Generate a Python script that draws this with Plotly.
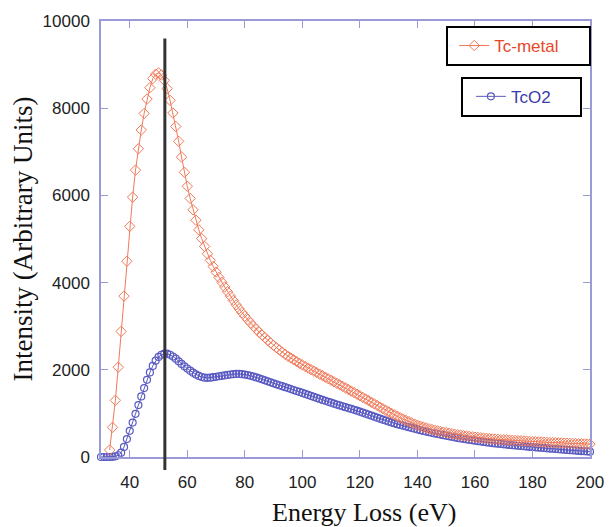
import plotly.graph_objects as go

# ---- data ----
metal_x = list(range(33, 201))
metal_y = [160, 680, 1300, 2060, 2880, 3690, 4490, 5290, 5960, 6580,
           7070, 7500, 7880, 8210, 8470, 8680, 8780, 8810, 8760, 8640,
           8450, 8180, 7890, 7580, 7240, 6880, 6530, 6210, 5930, 5670,
           5430, 5210, 5010, 4830, 4660, 4510, 4370, 4240, 4120, 4010,
           3900, 3790, 3690, 3590, 3490, 3400, 3310, 3230, 3150, 3075,
           3000, 2930, 2860, 2795, 2735, 2675, 2615, 2560, 2505, 2455,
           2405, 2355, 2310, 2270, 2230, 2190, 2150, 2112, 2076, 2040,
           2005, 1970, 1935, 1900, 1865, 1830, 1795, 1760, 1725, 1690,
           1655, 1620, 1584, 1548, 1512, 1476, 1440, 1404, 1367, 1330,
           1293, 1256, 1219, 1182, 1145, 1108, 1071, 1035, 1000, 966,
           933, 901, 870, 840, 811, 783, 756, 731, 708, 687,
           667, 648, 630, 614, 599, 585, 571, 558, 546, 534,
           522, 511, 500, 490, 481, 472, 463, 455, 448, 441,
           434, 427, 420, 415, 410, 405, 400, 395, 391, 387,
           383, 379, 375, 371, 367, 363, 359, 355, 351, 348,
           344, 341, 337, 334, 331, 328, 325, 322, 319, 316,
           313, 311, 308, 305, 302, 300, 297, 295]

oxide_x = list(range(30, 201))
oxide_y = [0, 0, 0, 0, 5, 15, 40, 100, 230, 410,
           600, 790, 990, 1190, 1390, 1580, 1770, 1940, 2090, 2210,
           2295, 2345, 2370, 2370, 2345, 2305, 2255, 2195, 2135, 2080,
           2030, 1980, 1935, 1895, 1860, 1835, 1820, 1815, 1820, 1830,
           1840, 1852, 1862, 1872, 1882, 1892, 1900, 1905, 1905, 1900,
           1890, 1878, 1862, 1845, 1825, 1805, 1782, 1758, 1735, 1712,
           1690, 1668, 1646, 1624, 1602, 1580, 1558, 1536, 1514, 1492,
           1470, 1447, 1424, 1401, 1378, 1355, 1332, 1310, 1288, 1266,
           1245, 1224, 1203, 1182, 1162, 1142, 1122, 1102, 1082, 1062,
           1040, 1017, 994, 971, 948, 925, 903, 880, 857, 835,
           812, 790, 772, 754, 736, 718, 700, 683, 666, 649,
           632, 615, 598, 582, 568, 554, 540, 527, 514, 501,
           488, 475, 462, 450, 438, 427, 416, 405, 395, 385,
           375, 365, 355, 346, 337, 328, 320, 312, 305, 298,
           291, 284, 277, 270, 264, 258, 252, 246, 240, 234,
           229, 222, 217, 212, 206, 200, 194, 189, 183, 178,
           172, 167, 162, 157, 152, 147, 142, 137, 132, 127,
           122]

edge_energy = 52.2
x_ticks = [40, 60, 80, 100, 120, 140, 160, 180, 200]
y_ticks = [0, 2000, 4000, 6000, 8000, 10000]
y_tick_text = ["0", "2000", "4000", "6000", "8000", "10000"]
x_title = "Energy Loss (eV)"
y_title = "Intensity (Arbitrary Units)"

axis_col = "#9a9ad6"
metal_col = "#f07a5a"
oxide_col = "#5a5ac2"

fig = go.Figure()
fig.add_trace(go.Scatter(
    x=oxide_x, y=oxide_y, name="TcO2", mode="lines+markers",
    line=dict(color=oxide_col, width=1),
    marker=dict(symbol="circle-open", size=7, color=oxide_col, line=dict(width=1.2)),
    cliponaxis=False, legend="legend2", showlegend=True))
fig.add_trace(go.Scatter(
    x=metal_x, y=metal_y, name="Tc-metal", mode="lines+markers",
    line=dict(color=metal_col, width=1),
    marker=dict(symbol="diamond-open", size=8, color=metal_col, line=dict(width=1)),
    cliponaxis=False, legend="legend", showlegend=True))

fig.add_shape(type="line", xref="x", yref="paper",
              x0=edge_energy, x1=edge_energy, y0=-0.03, y1=0.96,
              line=dict(color="#333333", width=3))

tick_font = dict(family="Liberation Sans, Arial, sans-serif", size=17, color="#222222")
title_font = dict(family="Liberation Serif, Times New Roman, serif", size=26, color="#111111")
leg_family = "Liberation Sans, Arial, sans-serif"

fig.add_annotation(text=x_title, xref="paper", yref="paper", x=0.538, y=-0.127,
                   xanchor="center", yanchor="middle", showarrow=False, font=title_font)

fig.update_layout(
    width=616, height=527,
    margin=dict(l=101, r=15, t=18, b=70),
    paper_bgcolor="white", plot_bgcolor="white",
    showlegend=True,
    legend=dict(x=0.706, y=0.9886, xanchor="left", yanchor="top",
                orientation="h", entrywidth=90, indentation=6,
                bordercolor="black", borderwidth=2, bgcolor="white",
                font=dict(family=leg_family, size=17, color="#e8482a")),
    legend2=dict(x=0.736, y=0.872, xanchor="left", yanchor="top",
                 orientation="h", entrywidth=64, indentation=8,
                 bordercolor="black", borderwidth=2, bgcolor="white",
                 font=dict(family=leg_family, size=17, color="#3c3ca8")),
)
fig.update_xaxes(range=[30, 200], tickvals=x_ticks, ticks="inside", ticklen=7,
                 tickcolor=axis_col, showline=True, linecolor=axis_col, linewidth=1.5,
                 mirror="ticks", showgrid=False, zeroline=False, tickfont=tick_font,
                 ticklabelstandoff=9)
fig.update_yaxes(range=[0, 10000], tickvals=y_ticks, ticktext=y_tick_text,
                 ticks="inside", ticklen=7,
                 tickcolor=axis_col, showline=True, linecolor=axis_col, linewidth=1.5,
                 mirror="ticks", showgrid=False, zeroline=False, tickfont=tick_font,
                 ticklabelstandoff=6,
                 title=dict(text=y_title, font=dict(title_font, size=27), standoff=2))

fig.write_html("out.html")
